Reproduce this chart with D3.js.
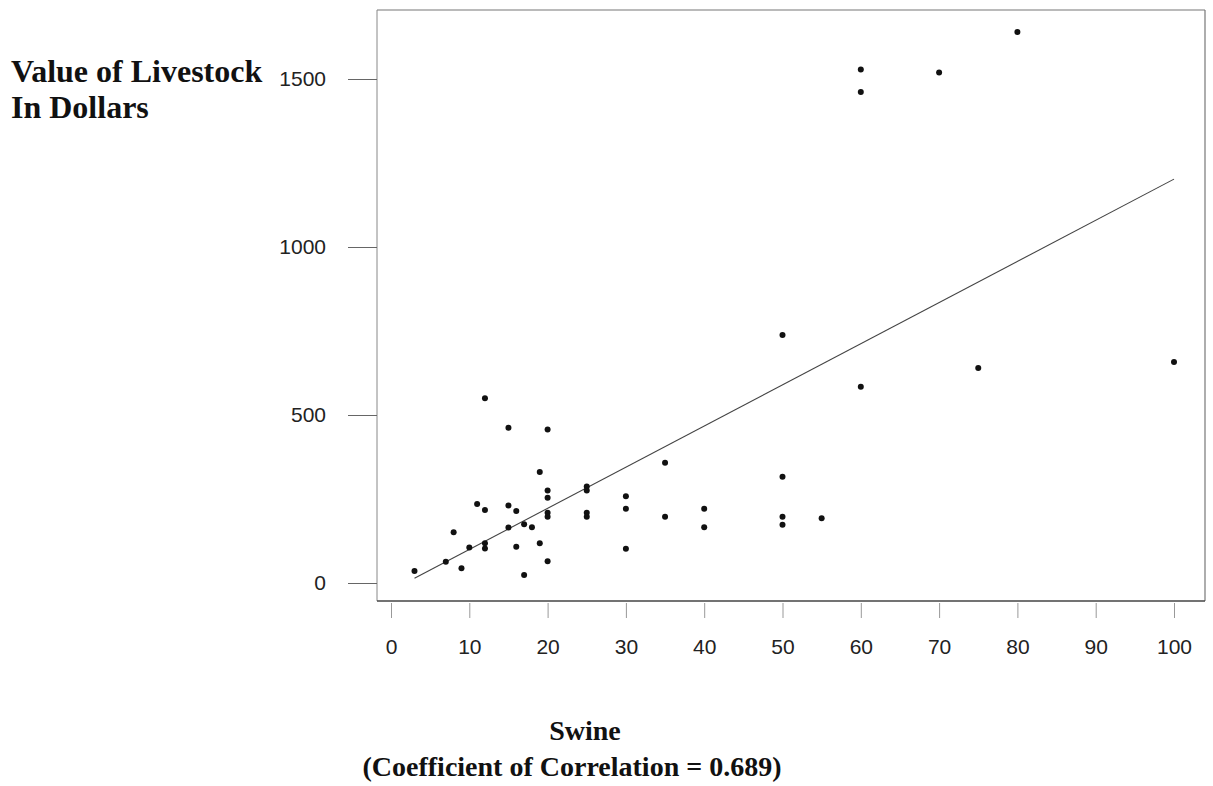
<!DOCTYPE html>
<html>
<head>
<meta charset="utf-8">
<script src="https://cdn.jsdelivr.net/npm/d3@7"></script>
<style>
  body { margin: 0; background: #fff; }
  svg { display: block; }
</style>
</head>
<body>
<svg id="chart"></svg>
<script>
// Swine count vs value of livestock (dollars)
const swine = [3, 7, 8, 9, 10, 11, 12, 12, 12, 12, 15, 15, 15, 16, 16, 17, 17, 18, 19, 19,
  20, 20, 20, 20, 20, 20, 25, 25, 25, 25, 30, 30, 30, 35, 35, 40, 40,
  50, 50, 50, 50, 55, 60, 60, 60, 70, 75, 80, 100];
const livestockValue = [36, 63, 151, 44, 106, 235, 550, 217, 118, 103, 462, 231, 165, 214, 108, 175, 24, 166, 330, 118,
  457, 275, 254, 209, 197, 65, 287, 275, 209, 197, 258, 221, 102, 358, 197, 221, 166,
  738, 316, 197, 173, 193, 1528, 1461, 584, 1519, 640, 1640, 658];

// fitted line end points
const fitX = [3, 100];
const fitY = [14, 1202];

const xTicks = [0, 10, 20, 30, 40, 50, 60, 70, 80, 90, 100];
const yTicks = [0, 500, 1000, 1500];

const width = 1213;
const height = 786;
const frame = { left: 377, top: 10, right: 1205, bottom: 601 };
const sans = "'Liberation Sans', Arial, Helvetica, sans-serif";
const serif = "'Liberation Serif', 'Times New Roman', serif";

let svg = d3.select('#chart')
  .attr('width', width)
  .attr('height', height);

let xScale = d3.scaleLinear()
  .domain([0, 100])
  .range([391, 1174]);
let yScale = d3.scaleLinear()
  .domain([0, 1500])
  .range([583, 79]);

// frame around the plot
svg.append('line')
  .attr('x1', frame.left).attr('x2', frame.right)
  .attr('y1', frame.top).attr('y2', frame.top)
  .style('stroke', '#777').style('stroke-width', 1.2);
svg.append('line')
  .attr('x1', frame.right).attr('x2', frame.right)
  .attr('y1', frame.top).attr('y2', frame.bottom)
  .style('stroke', '#777').style('stroke-width', 1.2);
svg.append('line')
  .attr('x1', frame.left).attr('x2', frame.left)
  .attr('y1', frame.top).attr('y2', frame.bottom)
  .style('stroke', '#888').style('stroke-width', 1);
svg.append('line')
  .attr('x1', frame.left).attr('x2', frame.right)
  .attr('y1', frame.bottom).attr('y2', frame.bottom)
  .style('stroke', '#444').style('stroke-width', 1.5);

// axes
let yAxis = svg.append('g')
  .attr('transform', `translate(${frame.left},0)`)
  .call(d3.axisLeft(yScale).tickValues(yTicks).tickSize(29).tickPadding(22).tickFormat(d3.format('d')));
let xAxis = svg.append('g')
  .attr('transform', `translate(0,${frame.bottom + 2})`)
  .call(d3.axisBottom(xScale).tickValues(xTicks).tickSize(15).tickPadding(21).tickFormat(d3.format('d')));

[xAxis, yAxis].forEach(function(ax) {
  ax.select('.domain').remove();
  ax.selectAll('text')
    .style('font-family', sans)
    .style('font-size', '21px')
    .style('fill', '#222');
});
yAxis.selectAll('line').style('stroke', '#666');
xAxis.selectAll('line').style('stroke', '#999');

// regression line
let fit = fitX.map((x, i) => [x, fitY[i]]);
svg.append('path')
  .datum(fit)
  .attr('d', d3.line().x(d => xScale(d[0])).y(d => yScale(d[1])))
  .style('fill', 'none')
  .style('stroke', '#444')
  .style('stroke-width', 1.1);

// points
let points = swine.map((s, i) => ({ swine: s, value: livestockValue[i] }));
svg.selectAll('circle')
  .data(points)
  .enter().append('circle')
  .attr('cx', d => xScale(d.swine))
  .attr('cy', d => yScale(d.value))
  .attr('r', 3)
  .style('fill', '#111');

// axis titles
let yTitle = svg.append('text')
  .style('font-family', serif)
  .style('font-weight', 'bold')
  .style('font-size', '32px')
  .style('fill', '#111');
yTitle.append('tspan').attr('x', 11).attr('y', 82).text('Value of Livestock');
yTitle.append('tspan').attr('x', 11).attr('y', 118).text('In Dollars');

svg.append('text')
  .attr('x', 585)
  .attr('y', 740)
  .attr('text-anchor', 'middle')
  .style('font-family', serif)
  .style('font-weight', 'bold')
  .style('font-size', '28px')
  .style('fill', '#111')
  .text('Swine');
svg.append('text')
  .attr('x', 572)
  .attr('y', 776)
  .attr('text-anchor', 'middle')
  .style('font-family', serif)
  .style('font-weight', 'bold')
  .style('font-size', '28px')
  .style('fill', '#111')
  .text('(Coefficient of Correlation = 0.689)');
</script>
</body>
</html>
